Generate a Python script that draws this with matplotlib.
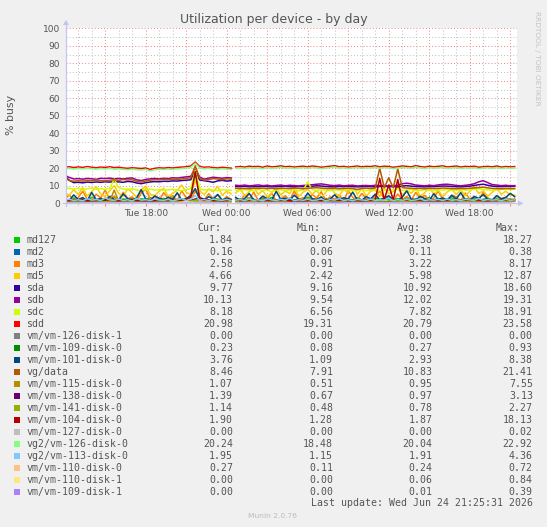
import numpy as np
import matplotlib
matplotlib.use("Agg")
import matplotlib.pyplot as plt
from matplotlib.patches import Rectangle, Polygon
from matplotlib.lines import Line2D

# ---------------- data ----------------
# 20-minute samples starting Tue 12:00 (index 0) ... Wed 21:20 (index 100);
# a short collection gap sits between index 37 (00:20) and 38 (00:40).
sdd = [20.6, 20.9, 20.4, 20.8, 20.5, 21.0, 20.6, 20.3, 20.7, 20.5,
       20.9, 20.4, 20.6, 20.2, 20.0, 20.3, 20.1, 19.9, 20.2, 19.3,
       20.0, 20.3, 20.1, 20.4, 20.2, 20.5, 20.7, 20.9, 21.3, 23.58,
       21.0, 20.6, 20.8, 20.4, 20.2, 20.6, 20.3, 20.1,
       20.8, 21.0, 20.7, 21.2, 20.9, 21.1, 20.6, 21.3, 20.8, 21.0,
       21.4, 20.9, 21.1, 20.7, 21.0, 21.2, 20.8, 21.3, 21.0, 20.6,
       20.9, 21.2, 21.5, 20.9, 21.1, 20.7, 21.0, 21.3, 20.8, 21.1,
       21.0, 21.4, 20.8, 21.2, 21.0, 20.6, 20.9, 21.3, 21.1, 20.8,
       21.5, 21.0, 20.7, 21.2, 20.9, 21.1, 21.4, 20.8, 21.0, 21.3,
       20.7, 21.1, 20.9, 21.2, 20.6, 20.9, 21.1, 20.8, 21.3, 20.7,
       21.0, 20.8, 20.98]
vg2_126 = [19.8, 20.0, 19.6, 19.9, 19.7, 20.1, 19.8, 19.5, 19.9, 19.6,
           20.0, 19.5, 19.7, 19.4, 19.2, 19.5, 19.3, 19.0, 19.4, 18.5,
           19.2, 19.5, 19.3, 19.6, 19.4, 19.7, 19.9, 20.1, 20.5, 22.92,
           20.2, 19.8, 20.0, 19.6, 19.4, 19.8, 19.5, 19.3,
           20.0, 20.3, 19.9, 20.4, 20.1, 20.2, 19.8, 20.5, 20.0, 20.2,
           20.6, 20.1, 20.3, 19.9, 20.2, 20.4, 20.0, 20.5, 20.2, 19.8,
           20.1, 20.4, 20.7, 20.1, 20.3, 19.9, 20.2, 20.5, 20.0, 20.3,
           20.2, 20.6, 20.0, 20.4, 20.2, 19.8, 20.1, 20.5, 20.3, 20.0,
           20.7, 20.2, 19.9, 20.4, 20.1, 20.3, 20.6, 20.0, 20.2, 20.5,
           19.9, 20.3, 20.1, 20.4, 19.8, 20.1, 20.3, 20.0, 20.5, 19.9,
           20.2, 20.0, 20.24]
sdb = [16.0, 14.8, 13.9, 14.1, 13.8, 14.2, 14.0, 13.7, 14.3, 14.1,
       14.4, 14.0, 14.2, 13.9, 14.3, 14.5, 13.4, 13.0, 13.6, 14.0,
       14.2, 13.9, 14.3, 14.1, 14.6, 14.4, 14.8, 15.1, 15.4, 19.31,
       15.0, 13.8, 14.4, 14.9, 14.6, 14.3, 14.7, 14.5,
       10.3, 10.1, 10.4, 10.0, 10.2, 10.5, 10.1, 10.3, 9.9, 10.2,
       10.4, 10.0, 10.3, 10.1, 9.9, 10.2, 10.4, 10.6, 10.9, 11.1,
       10.7, 10.3, 10.1, 10.4, 10.0, 10.2, 10.3, 9.9, 10.1, 10.2,
       10.0, 10.3, 10.1, 10.2, 9.9, 10.1, 10.3, 11.2, 11.5, 11.1,
       10.4, 10.2, 10.0, 10.3, 10.1, 10.5, 10.8, 10.9, 10.6, 10.2,
       10.0, 10.3, 10.6, 11.2, 12.3, 12.9, 11.8, 10.7, 10.4, 10.1,
       10.3, 10.0, 10.13]
sda = [15.6, 13.2, 11.8, 12.0, 11.7, 12.1, 11.9, 12.2, 12.0, 12.3,
       12.1, 12.4, 12.2, 12.0, 12.5, 12.3, 11.6, 11.2, 11.8, 12.2,
       12.4, 12.3, 12.6, 12.5, 12.8, 12.7, 13.0, 13.2, 13.4, 18.6,
       13.3, 12.9, 12.5, 12.0, 12.8, 13.1, 12.7, 12.9,
       9.6, 9.5, 9.7, 9.4, 9.6, 9.5, 9.7, 9.6, 9.4, 9.5,
       9.6, 9.7, 9.5, 9.4, 9.6, 9.5, 9.7, 9.8, 10.0, 9.9,
       9.6, 9.5, 9.4, 9.6, 9.5, 9.7, 9.6, 9.4, 9.5, 9.6,
       9.5, 9.4, 9.6, 9.7, 9.5, 9.6, 9.4, 9.9, 10.1, 9.8,
       9.6, 9.5, 9.4, 9.6, 9.5, 9.7, 9.9, 9.8, 9.6, 9.5,
       9.4, 9.6, 9.8, 10.2, 10.6, 10.9, 10.3, 9.8, 9.6, 9.5,
       9.7, 9.6, 9.77]
vg_data = [14.5, 13.0, 12.6, 12.9, 12.7, 13.1, 12.9, 13.3, 13.0, 12.8,
           13.2, 13.4, 13.1, 13.6, 13.3, 13.5, 12.5, 12.1, 12.8, 13.2,
           13.5, 13.4, 13.7, 13.5, 13.8, 13.6, 13.9, 14.2, 14.6, 21.41,
           14.3, 13.2, 13.6, 14.1, 13.9, 13.5, 14.0, 13.8,
           8.6, 8.4, 8.5, 8.3, 8.6, 8.5, 8.7, 8.4, 8.5, 8.3,
           8.6, 8.5, 8.4, 8.7, 8.5, 8.3, 8.6, 8.8, 8.9, 8.7,
           8.5, 8.4, 8.6, 8.3, 8.5, 8.6, 8.4, 7.91, 8.5, 8.6,
           8.4, 8.7, 20.0, 8.9, 14.6, 8.8, 19.6, 9.0, 8.7, 8.6,
           8.4, 8.5, 8.3, 8.6, 8.4, 8.5, 8.7, 8.6, 8.4, 8.3,
           8.5, 8.4, 8.6, 8.8, 9.0, 9.2, 8.8, 8.5, 8.4, 8.3,
           8.5, 8.4, 8.46]
sdc = [8.8, 8.5, 8.2, 8.6, 7.9, 8.3, 8.7, 8.1, 8.4, 8.0,
       8.6, 13.8, 8.9, 8.2, 7.8, 8.3, 7.6, 7.2, 7.8, 8.1,
       7.5, 7.9, 7.4, 7.7, 8.0, 7.6, 7.3, 7.8, 8.4, 18.91,
       8.2, 7.5, 7.9, 7.6, 7.2, 7.8, 7.5, 7.4,
       7.6, 7.3, 7.8, 7.5, 7.2, 7.9, 7.4, 7.7, 6.6, 7.6,
       7.8, 7.3, 7.5, 7.9, 7.1, 7.6, 12.2, 7.8, 7.4, 7.7,
       7.5, 7.2, 7.8, 7.4, 7.6, 7.9, 7.3, 7.5, 7.7, 7.2,
       7.6, 7.8, 7.4, 7.5, 7.3, 7.7, 7.9, 7.4, 7.6, 7.8,
       7.5, 7.3, 7.7, 7.6, 7.2, 7.8, 7.5, 7.9, 7.4, 7.6,
       7.8, 7.5, 7.7, 8.0, 8.3, 7.9, 7.6, 7.4, 7.8, 7.9,
       8.0, 7.7, 8.18]
md5 = [6.2, 4.5, 7.8, 5.1, 8.9, 4.2, 6.7, 9.4, 5.3, 3.8,
       7.2, 10.1, 5.6, 4.1, 8.3, 6.0, 3.5, 7.7, 9.8, 5.2,
       4.4, 6.9, 8.6, 3.9, 5.8, 7.4, 10.5, 6.3, 4.8, 12.87,
       7.1, 5.0, 8.2, 6.5, 9.7, 4.6, 6.8, 5.4,
       5.9, 8.1, 4.3, 6.6, 9.2, 5.0, 7.3, 3.6, 6.1, 8.8,
       4.7, 7.0, 5.5, 9.6, 4.0, 6.4, 8.0, 5.2, 7.5, 3.4,
       6.2, 9.9, 5.7, 4.5, 7.8, 6.3, 10.2, 5.1, 8.4, 4.2,
       6.9, 7.6, 3.8, 8.9, 5.4, 6.7, 9.3, 4.6, 7.1, 5.8,
       8.5, 4.1, 6.0, 9.0, 5.3, 7.4, 3.9, 6.5, 8.2, 5.0,
       7.7, 4.4, 6.8, 9.5, 5.6, 7.2, 4.0, 6.3, 8.6, 5.1,
       6.9, 4.8, 4.66]
md3 = [2.1, 4.8, 1.6, 3.3, 6.9, 2.4, 1.4, 5.2, 3.0, 7.6,
       2.2, 4.1, 1.8, 6.3, 2.7, 3.6, 1.3, 5.7, 8.17, 2.5,
       3.9, 1.7, 6.1, 2.9, 4.4, 1.5, 7.2, 3.1, 2.0, 6.8,
       3.4, 1.9, 5.5, 2.6, 4.7, 1.6, 3.8, 2.3,
       3.0, 1.4, 4.9, 2.2, 6.4, 1.7, 3.5, 2.8, 5.8, 1.3,
       2.6, 4.3, 1.9, 7.1, 2.4, 3.2, 1.5, 5.1, 2.9, 6.6,
       1.8, 3.7, 2.3, 4.8, 1.2, 7.4, 3.3, 2.0, 5.6, 2.7,
       1.6, 4.2, 6.9, 2.5, 3.4, 1.4, 5.3, 2.1, 3.9, 1.7,
       6.2, 2.8, 4.5, 1.5, 3.1, 7.0, 2.2, 1.9, 4.6, 3.6,
       1.3, 5.9, 2.4, 3.8, 1.7, 6.5, 2.9, 1.6, 4.1, 2.3,
       3.5, 1.8, 2.58]
md127 = [2.4, 1.8, 3.1, 2.0, 2.7, 1.5, 3.4, 2.2, 1.9, 2.9,
         2.3, 3.6, 1.7, 2.5, 2.1, 3.0, 1.4, 2.6, 2.2, 3.3,
         1.9, 2.4, 2.8, 1.6, 3.2, 2.0, 2.5, 1.8, 3.5, 18.27,
         2.7, 2.1, 1.6, 2.9, 2.4, 1.9, 3.1, 2.2,
         2.0, 2.6, 1.5, 3.2, 2.3, 1.8, 2.9, 2.1, 3.4, 1.7,
         2.5, 2.0, 3.0, 1.6, 2.7, 2.2, 3.5, 1.9, 2.4, 0.9,
         2.8, 2.1, 1.7, 3.1, 2.3, 2.6, 1.8, 3.3, 2.0, 2.5,
         1.6, 2.9, 2.2, 3.0, 1.9, 2.4, 2.7, 1.5, 3.2, 2.1,
         2.6, 1.8, 2.3, 3.4, 2.0, 2.8, 1.7, 2.5, 3.1, 2.2,
         1.9, 2.7, 2.4, 3.0, 1.6, 2.3, 2.9, 2.0, 2.6, 1.8,
         2.2, 2.5, 1.84]
vm101 = [2.5, 1.6, 4.8, 2.1, 3.3, 1.4, 6.2, 2.0, 2.8, 1.5,
         3.9, 2.2, 1.7, 5.4, 2.6, 1.9, 3.1, 7.8, 2.4, 1.6,
         4.2, 2.9, 1.8, 3.5, 2.2, 6.0, 1.9, 2.7, 4.4, 8.38,
         2.3, 1.7, 3.8, 2.5, 5.1, 1.8, 2.9, 2.1,
         3.4, 1.5, 2.8, 5.6, 2.0, 1.7, 4.1, 2.6, 1.9, 6.8,
         2.3, 3.0, 1.6, 4.7, 2.2, 1.8, 5.9, 2.7, 2.1, 3.6,
         1.5, 2.4, 4.9, 1.9, 3.2, 2.5, 6.4, 2.0, 1.7, 3.8,
         2.6, 5.2, 1.8, 2.9, 4.3, 2.1, 1.6, 3.5, 7.1, 2.4,
         1.9, 4.0, 2.7, 1.5, 5.5, 2.2, 3.1, 1.8, 4.6, 2.5,
         6.1, 2.0, 1.7, 3.9, 2.8, 5.0, 2.3, 1.9, 4.4, 2.6,
         3.3, 5.7, 3.76]
vg2_113 = [1.9, 2.3, 1.6, 2.0, 1.4, 2.6, 1.8, 2.2, 1.5, 3.1,
           1.9, 1.7, 2.4, 1.6, 2.0, 1.3, 2.8, 1.8, 2.1, 1.5,
           2.5, 1.9, 1.7, 2.2, 1.4, 2.0, 2.7, 1.6, 2.3, 4.36,
           1.8, 2.1, 1.5, 2.4, 1.9, 1.7, 2.2, 1.6,
           1.8, 2.1, 1.5, 2.4, 1.7, 2.0, 1.4, 2.6, 1.9, 1.6,
           2.2, 1.8, 3.0, 1.5, 2.0, 1.7, 2.3, 1.6, 1.9, 2.5,
           1.4, 2.1, 1.8, 2.7, 1.6, 2.0, 1.5, 2.2, 1.9, 1.7,
           2.4, 1.6, 2.0, 1.8, 2.9, 1.5, 2.1, 1.7, 2.3, 1.6,
           1.9, 2.6, 1.5, 2.0, 1.8, 2.2, 1.6, 2.4, 1.7, 2.0,
           1.5, 2.3, 1.9, 1.7, 2.8, 1.6, 2.1, 1.8, 2.0, 1.5,
           2.2, 1.7, 1.95]
vm104 = [1.8, 1.6, 1.9, 1.7, 2.0, 1.5, 1.8, 1.9, 1.6, 2.1,
         1.7, 1.8, 1.5, 1.9, 1.7, 2.0, 1.6, 1.8, 1.9, 1.5,
         1.7, 2.0, 1.8, 1.6, 1.9, 1.7, 1.8, 2.2, 3.5, 18.13,
         2.4, 1.7, 1.9, 1.6, 1.8, 1.5, 1.7, 1.8,
         1.7, 1.9, 1.6, 1.8, 2.0, 1.5, 1.7, 1.9, 1.6, 1.8,
         1.7, 2.0, 1.5, 1.8, 1.9, 1.6, 1.7, 1.8, 2.0, 1.5,
         1.9, 1.7, 1.6, 1.8, 1.9, 1.5, 1.7, 1.8, 1.6, 2.1,
         1.8, 1.7, 14.2, 2.0, 10.5, 1.9, 13.6, 2.1, 1.8, 1.6,
         1.7, 1.9, 1.5, 1.8, 2.0, 1.6, 1.7, 1.9, 1.8, 1.5,
         1.7, 2.0, 1.6, 1.8, 1.9, 1.7, 1.5, 1.8, 1.6, 1.9,
         1.7, 1.8, 1.90]
vm115 = [0.9, 1.0, 0.8, 0.9, 1.1, 0.8, 0.9, 1.0, 0.7, 0.9,
         1.2, 7.55, 1.1, 0.9, 0.8, 1.0, 0.9, 0.7, 0.8, 1.0,
         0.9, 0.8, 1.1, 0.9, 0.7, 1.0, 0.8, 0.9, 1.3, 2.4,
         1.0, 0.8, 0.9, 0.7, 1.0, 0.9, 0.8, 0.9,
         0.9, 0.8, 1.0, 0.7, 0.9, 0.8, 1.0, 0.9, 0.6, 0.8,
         1.0, 0.9, 0.7, 0.9, 0.8, 1.1, 3.0, 1.0, 0.8, 0.9,
         0.7, 0.9, 1.0, 0.8, 0.9, 0.7, 1.0, 0.8, 0.9, 1.1,
         0.8, 0.9, 1.6, 1.0, 1.2, 0.9, 1.4, 0.8, 0.9, 0.7,
         1.0, 0.8, 0.9, 1.1, 0.7, 0.9, 0.8, 1.0, 0.9, 0.7,
         0.8, 1.0, 0.9, 1.2, 0.8, 0.9, 1.0, 0.7, 0.9, 0.8,
         1.0, 0.9, 1.07]

# hourly samples, Tue 12:00 ... Wed 21:00, for the small devices
md2 = [0.10, 0.12, 0.08, 0.15, 0.10, 0.09, 0.13, 0.10, 0.38, 0.11,
       0.07, 0.10, 0.12, 0.09, 0.10, 0.14, 0.08, 0.11, 0.10, 0.06,
       0.12, 0.10, 0.09, 0.13, 0.11, 0.10, 0.08, 0.12, 0.10, 0.11,
       0.09, 0.14, 0.10, 0.16]
vm126_d1 = [0.00] * 34
vm109_d0 = [0.25, 0.30, 0.20, 0.28, 0.35, 0.22, 0.27, 0.30, 0.18, 0.26,
            0.93, 0.24, 0.29, 0.21, 0.27, 0.33, 0.20, 0.25, 0.31, 0.23,
            0.28, 0.19, 0.26, 0.34, 0.22, 0.27, 0.30, 0.24, 0.20, 0.29,
            0.25, 0.32, 0.21, 0.23]
vm138 = [0.9, 1.0, 0.8, 1.1, 0.9, 0.7, 1.0, 0.9, 1.2, 0.8,
         3.13, 0.9, 1.0, 0.8, 0.9, 1.1, 0.7, 0.9, 1.0, 0.8,
         1.2, 0.9, 1.0, 0.8, 0.9, 1.1, 0.9, 0.7, 1.0, 1.3,
         0.9, 1.0, 1.2, 1.39]
vm141 = [0.7, 0.8, 0.6, 0.9, 0.7, 0.8, 0.6, 0.7, 0.9, 0.8,
         2.27, 0.7, 0.8, 0.6, 0.9, 0.7, 0.8, 0.6, 0.7, 0.8,
         0.9, 0.7, 0.6, 0.8, 0.7, 0.9, 0.8, 0.6, 0.7, 0.8,
         0.9, 0.7, 0.8, 1.14]
vm127 = [0.00] * 10 + [0.02] + [0.00] * 23
vm110_d0 = [0.20, 0.25, 0.22, 0.30, 0.18, 0.24, 0.20, 0.27, 0.23, 0.21,
            0.72, 0.26, 0.20, 0.24, 0.22, 0.28, 0.19, 0.25, 0.23, 0.21,
            0.26, 0.20, 0.24, 0.30, 0.22, 0.25, 0.20, 0.23, 0.27, 0.21,
            0.24, 0.22, 0.26, 0.27]
vm110_d1 = [0.00] * 9 + [0.84] + [0.00] * 24
vm109_d1 = [0.00] * 20 + [0.39] + [0.00] * 13

names = ["md127", "md2", "md3", "md5", "sda", "sdb", "sdc", "sdd",
         "vm/vm-126-disk-1", "vm/vm-109-disk-0", "vm/vm-101-disk-0", "vg/data",
         "vm/vm-115-disk-0", "vm/vm-138-disk-0", "vm/vm-141-disk-0",
         "vm/vm-104-disk-0", "vm/vm-127-disk-0", "vg2/vm-126-disk-0",
         "vg2/vm-113-disk-0", "vm/vm-110-disk-0", "vm/vm-110-disk-1",
         "vm/vm-109-disk-1"]
colors = ["#00cc00", "#0066b3", "#ff8000", "#ffcc00", "#330099", "#990099",
          "#ccff00", "#ff0000", "#808080", "#008f00", "#00487d", "#b35a00",
          "#b38f00", "#6b006b", "#8fb300", "#b30000", "#bebebe", "#80ff80",
          "#80c9ff", "#ffc080", "#ffe680", "#aa80ff"]
series20 = {"md127": md127, "md3": md3, "md5": md5, "sda": sda, "sdb": sdb,
            "sdc": sdc, "sdd": sdd, "vm/vm-101-disk-0": vm101, "vg/data": vg_data,
            "vm/vm-115-disk-0": vm115, "vm/vm-104-disk-0": vm104,
            "vg2/vm-126-disk-0": vg2_126, "vg2/vm-113-disk-0": vg2_113}
series60 = {"md2": md2, "vm/vm-126-disk-1": vm126_d1, "vm/vm-109-disk-0": vm109_d0,
            "vm/vm-138-disk-0": vm138, "vm/vm-141-disk-0": vm141,
            "vm/vm-127-disk-0": vm127, "vm/vm-110-disk-0": vm110_d0,
            "vm/vm-110-disk-1": vm110_d1, "vm/vm-109-disk-1": vm109_d1}
cur = [1.84, 0.16, 2.58, 4.66, 9.77, 10.13, 8.18, 20.98, 0.00, 0.23, 3.76, 8.46,
       1.07, 1.39, 1.14, 1.90, 0.00, 20.24, 1.95, 0.27, 0.00, 0.00]
mins = [0.87, 0.06, 0.91, 2.42, 9.16, 9.54, 6.56, 19.31, 0.00, 0.08, 1.09, 7.91,
        0.51, 0.67, 0.48, 1.28, 0.00, 18.48, 1.15, 0.11, 0.00, 0.00]
avgs = [2.38, 0.11, 3.22, 5.98, 10.92, 12.02, 7.82, 20.79, 0.00, 0.27, 2.93, 10.83,
        0.95, 0.97, 0.78, 1.87, 0.00, 20.04, 1.91, 0.24, 0.06, 0.01]
maxs = [18.27, 0.38, 8.17, 12.87, 18.60, 19.31, 18.91, 23.58, 0.00, 0.93, 8.38, 21.41,
        7.55, 3.13, 2.27, 18.13, 0.02, 22.92, 4.36, 0.72, 0.84, 0.39]
xtick_hours = [18, 24, 30, 36, 42]
xtick_labels = ["Tue 18:00", "Wed 00:00", "Wed 06:00", "Wed 12:00", "Wed 18:00"]
GAP_T = 24.5  # hours since Tue 00:00

# ---------------- figure ----------------
W, H = 547, 527
fig = plt.figure(figsize=(W / 100, H / 100), dpi=100, facecolor="#f0f0f0")


def fx(px):
    return px / W


def fy(py):
    return 1 - py / H


L, R, T, B = 66, 517, 28.3, 203.3
ax = fig.add_axes([fx(L), fy(B), fx(R) - fx(L), fy(T) - fy(B)])
ax.set_facecolor("white")
ax.set_xlim(12.096, 45.5)
ax.set_ylim(0, 100)
for s in ax.spines.values():
    s.set_visible(False)

MINOR = "#c4c4c4"
MAJOR = "#f08c8c"
for h in range(13, 46):
    ax.axvline(h, color=MAJOR if h % 3 == 0 else MINOR, lw=0.75,
               dashes=(1, 2), zorder=0)
for v in range(5, 101, 5):
    ax.axhline(v, color=MAJOR if v % 10 == 0 else MINOR, lw=0.75,
               dashes=(1, 2), zorder=0)


def gapped(t, v):
    t = np.asarray(t, float)
    v = np.asarray(v, float)
    k = np.searchsorted(t, GAP_T)
    return np.insert(t, k, GAP_T), np.insert(v, k, np.nan)


for name, c in zip(names, colors):
    if name in series20:
        v = series20[name]
        t = 12 + np.arange(len(v)) / 3.0
    else:
        v = series60[name]
        t = 12 + np.arange(len(v), dtype=float)
    tt, vv = gapped(t, v)
    ax.plot(tt, vv, color=c, lw=1.1, zorder=2)

# ticks
TXT = "#555555"
ax.set_xticks(range(15, 46, 3))
ax.set_xticklabels([xtick_labels[xtick_hours.index(h)] if h in xtick_hours else ""
                    for h in range(15, 46, 3)])
ax.set_xticks(range(13, 46), minor=True)
ax.tick_params(axis="x", which="major", length=2, width=0.8, color=MAJOR,
               pad=1.8, labelsize=6.5, labelcolor=TXT)
ax.tick_params(axis="x", which="minor", length=1.2, width=0.7, color=MINOR)
ax.set_yticks(range(0, 101, 10))
ax.tick_params(axis="y", length=0, pad=4.3, labelsize=6.5, labelcolor=TXT)

# axes lines with arrows (figure coordinates)
AX = "#c4c4f4"
fig.add_artist(Line2D([fx(L), fx(L)], [fy(B + 3), fy(24)], color=AX, lw=0.9))
fig.add_artist(Line2D([fx(L - 3), fx(519)], [fy(B), fy(B)], color=AX, lw=0.9))
fig.add_artist(Polygon([[fx(L - 3), fy(25)], [fx(L + 3), fy(25)], [fx(L), fy(20)]],
                       closed=True, color=AX, lw=0))
fig.add_artist(Polygon([[fx(518), fy(B - 3)], [fx(518), fy(B + 3)], [fx(523.5), fy(B)]],
                       closed=True, color=AX, lw=0))

# titles
fig.text(fx(273.8), fy(19.3), "Utilization per device - by day", ha="center",
         va="center", fontsize=9, color=TXT)
fig.text(fx(10.5), fy(115), "% busy", rotation=90, ha="center", va="center",
         fontsize=7.9, color=TXT)
fig.text(fx(537), fy(58), "RRDTOOL / TOBI OETIKER", rotation=270, ha="center",
         va="center", fontsize=5.3, color="#c4c4c4")

# legend
MONO = "DejaVu Sans Mono"
FS = 7.1
hy = 227.7
for label, xr in zip(["Cur:", "Min:", "Avg:", "Max:"], [221, 321, 420.4, 520]):
    fig.text(fx(xr), fy(hy), label, ha="right", va="center", family=MONO,
             fontsize=FS, color=TXT)
for k, (name, c) in enumerate(zip(names, colors)):
    y = 239.7 + 12.0 * k
    fig.add_artist(Rectangle((fx(14), fy(y + 3)), fx(6), 6 / H, color=c, lw=0))
    fig.text(fx(26.2), fy(y), name, ha="left", va="center", family=MONO,
             fontsize=FS, color=TXT)
    for val, xr in zip([cur[k], mins[k], avgs[k], maxs[k]], [233.0, 333.2, 432.7, 532.8]):
        fig.text(fx(xr), fy(y), "%.2f" % val, ha="right", va="center", family=MONO,
                 fontsize=FS, color=TXT)
fig.text(fx(532.8), fy(503.3), "Last update: Wed Jun 24 21:25:31 2026", ha="right",
         va="center", family=MONO, fontsize=FS, color=TXT)
fig.text(fx(273), fy(516), "Munin 2.0.76", ha="center", va="center",
         fontsize=5.4, color="#bbbbbb")

fig.savefig("out.png", dpi=100, facecolor=fig.get_facecolor())
